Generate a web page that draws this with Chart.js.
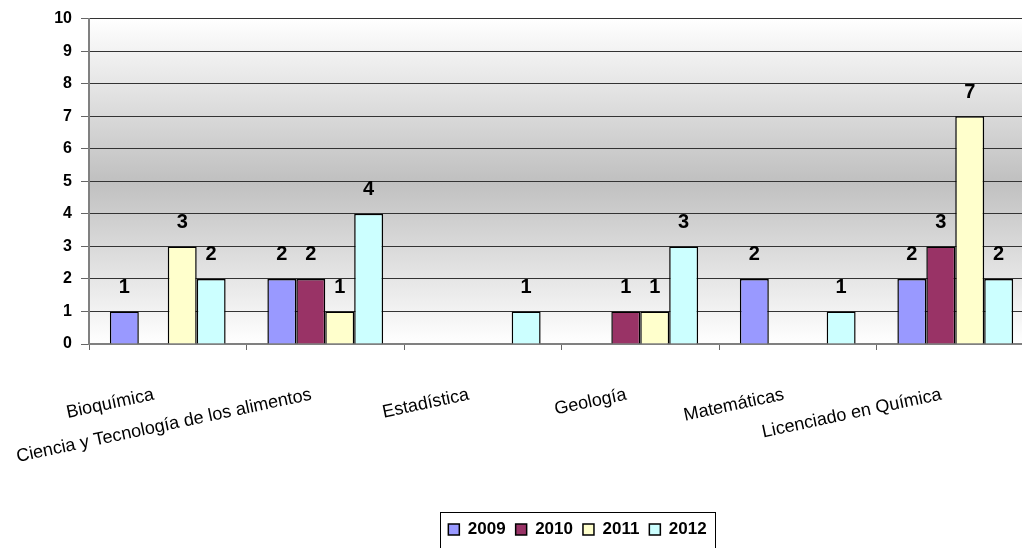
<!DOCTYPE html>
<html>
<head>
<meta charset="utf-8">
<script src="https://cdn.jsdelivr.net/npm/chart.js@4.4.1/dist/chart.umd.min.js"></script>
<style>
  html, body { margin: 0; padding: 0; background: #fff; overflow: hidden; }
  #wrap { position: absolute; left: 0; top: 0; width: 1035px; height: 548px; }
</style>
</head>
<body>
<div id="wrap"><canvas id="chart" width="1035" height="548"></canvas></div>
<script>
// Graduates per career and year (blank cells = no bar)
var careers = [
  'Bioquímica',
  'Ciencia y Tecnología de los alimentos',
  'Estadística',
  'Geología',
  'Matemáticas',
  'Licenciado en Química'
];
var years      = ['2009', '2010', '2011', '2012'];
var values2009 = [1,    2,    null, null, 2,    2];
var values2010 = [null, 2,    null, 1,    null, 3];
var values2011 = [3,    1,    null, 1,    null, 7];
var values2012 = [2,    4,    1,    3,    1,    2];
var yMin = 0, yMax = 10, yStep = 1;

var FONT = "'Liberation Sans', Arial, sans-serif";

// Excel-like colours
var COLORS = ['#9999ff', '#993366', '#ffffcc', '#ccffff'];
var seriesValues = [values2009, values2010, values2011, values2012];

// Gray band gradient behind the plot
var plotBackground = {
  id: 'plotBackground',
  beforeDraw: function(chart) {
    var a = chart.chartArea;
    var ctx = chart.ctx;
    var g = ctx.createLinearGradient(0, a.top, 0, a.bottom);
    g.addColorStop(0, '#ffffff');
    g.addColorStop(0.5, '#c0c0c0');
    g.addColorStop(1, '#ffffff');
    ctx.save();
    ctx.fillStyle = g;
    ctx.fillRect(a.left, a.top, a.right - a.left, a.bottom - a.top);
    ctx.restore();
  }
};

// Value labels above each bar
var valueLabels = {
  id: 'valueLabels',
  afterDatasetsDraw: function(chart) {
    var ctx = chart.ctx;
    ctx.save();
    ctx.font = 'bold 20px ' + FONT;
    ctx.fillStyle = '#000';
    ctx.textAlign = 'center';
    ctx.textBaseline = 'middle';
    chart.data.datasets.forEach(function(ds, i) {
      var meta = chart.getDatasetMeta(i);
      meta.data.forEach(function(bar, j) {
        var v = ds.data[j];
        if (v === null || v === undefined) { return; }
        ctx.fillText(String(v), bar.x, bar.y - 24);
      });
    });
    ctx.restore();
  }
};

// Move the legend a bit right, like the original
var legendShift = {
  id: 'legendShift',
  afterLayout: function(chart) {
    var lg = chart.legend;
    if (!lg) { return; }
    lg.left += 16;
    lg.right += 16;
  }
};

// Frame around the legend items
var legendFrame = {
  id: 'legendFrame',
  afterDraw: function(chart) {
    var lg = chart.legend;
    if (!lg || !lg.legendHitBoxes || !lg.legendHitBoxes.length) { return; }
    var boxes = lg.legendHitBoxes;
    var l = boxes[0].left - 8;
    var last = boxes[boxes.length - 1];
    var r = last.left + last.width + 9;
    var t = lg.top + 1;
    var ctx = chart.ctx;
    ctx.save();
    ctx.strokeStyle = '#000';
    ctx.lineWidth = 1;
    ctx.strokeRect(Math.round(l) + 0.5, Math.round(t) + 0.5, Math.round(r - l), 60);
    ctx.restore();
  }
};

var datasets = years.map(function(y, i) {
  return {
    label: y,
    data: seriesValues[i],
    backgroundColor: COLORS[i],
    borderColor: '#000',
    borderWidth: 1.5,
    categoryPercentage: 0.735,
    barPercentage: 1.0
  };
});

new Chart(document.getElementById('chart'), {
  type: 'bar',
  data: { labels: careers, datasets: datasets },
  plugins: [plotBackground, valueLabels, legendShift, legendFrame],
  options: {
    responsive: false,
    animation: false,
    layout: { padding: { top: 17, right: 1, left: 0, bottom: 0 } },
    plugins: {
      tooltip: { enabled: false },
      legend: {
        position: 'bottom',
        fullSize: false,
        labels: {
          color: '#000',
          font: { family: FONT, size: 17, weight: 'bold' },
          boxWidth: 11,
          boxHeight: 11,
          padding: 10,
          useBorderRadius: false
        }
      }
    },
    scales: {
      x: {
        offset: true,
        grid: {
          offset: true,
          drawOnChartArea: false,
          drawTicks: true,
          tickLength: 6,
          color: '#666'
        },
        border: { color: '#808080', width: 2 },
        ticks: {
          color: '#000',
          font: { family: FONT, size: 18 },
          minRotation: 12,
          maxRotation: 12,
          autoSkip: false,
          labelOffset: -14,
          padding: 34
        },
        afterFit: function(scale) { scale.height = 167; }
      },
      y: {
        min: yMin,
        max: yMax,
        grid: {
          color: '#333',
          lineWidth: 1,
          drawTicks: true,
          tickLength: 8,
          tickColor: '#666'
        },
        border: { color: '#808080', width: 2 },
        ticks: {
          stepSize: yStep,
          color: '#000',
          font: { family: FONT, size: 16, weight: 'bold' },
          padding: 9
        },
        afterFit: function(scale) { scale.width = 89; }
      }
    }
  }
});
</script>
</body>
</html>
